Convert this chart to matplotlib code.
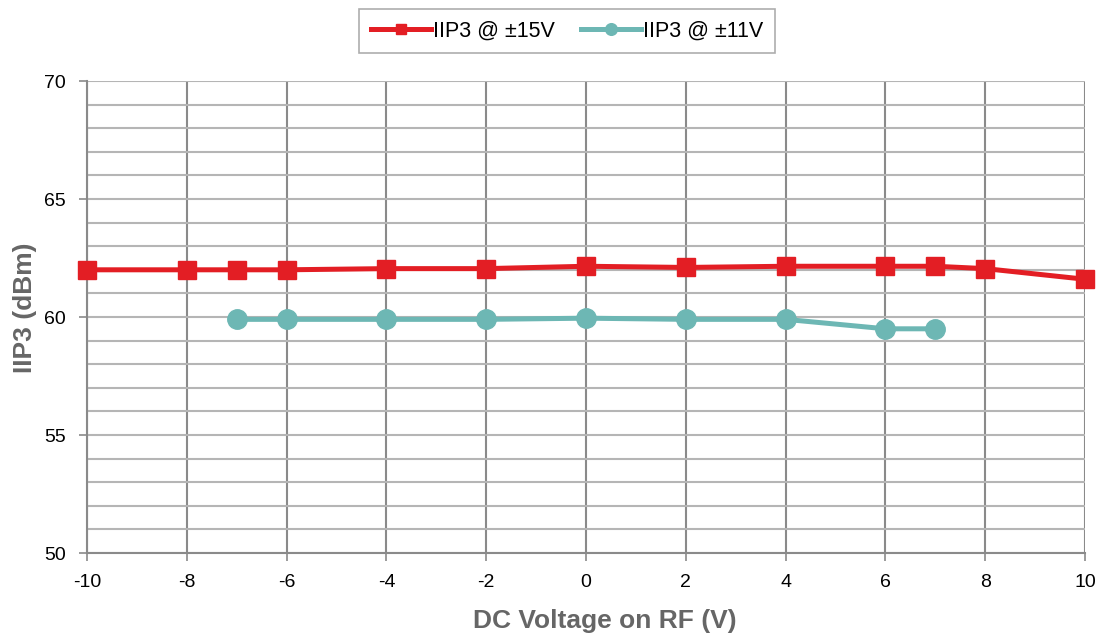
import matplotlib.pyplot as plt
import numpy as np
from matplotlib.ticker import MultipleLocator

plt.rcParams['font.family'] = ['Liberation Sans', 'DejaVu Sans']
plt.rcParams['axes.unicode_minus'] = False

x15 = [-10, -8, -7, -6, -4, -2, 0, 2, 4, 6, 7, 8, 10]
iip3_15 = [62.0, 62.0, 62.0, 62.0, 62.05, 62.05, 62.15, 62.1, 62.15, 62.15, 62.15, 62.05, 61.6]
x11 = [-7, -6, -4, -2, 0, 2, 4, 6, 7]
iip3_11 = [59.9, 59.9, 59.9, 59.9, 59.95, 59.9, 59.9, 59.5, 59.5]

W, H = 1109, 635
fig = plt.figure(figsize=(W / 100, H / 100), dpi=100)
ax = fig.add_axes([87 / W, 1 - 553 / H, (1085 - 87) / W, (553 - 81) / H])

red = '#e31e24'
teal = '#6db7b4'

ax.plot(x15, iip3_15, color=red, lw=3.6, marker='s', ms=13, label='IIP3 @ \u00b115V',
        zorder=3, clip_on=False)
ax.plot(x11, iip3_11, color=teal, lw=3.6, marker='o', ms=14, label='IIP3 @ \u00b111V',
        zorder=3, clip_on=False)

ax.set_xlim(-10, 10)
ax.set_ylim(50, 70)
ax.xaxis.set_major_locator(MultipleLocator(2))
ax.yaxis.set_major_locator(MultipleLocator(5))
ax.yaxis.set_minor_locator(MultipleLocator(1))
ax.grid(which='major', axis='x', color='#8a8a8a', lw=1.5)
ax.grid(which='both', axis='y', color='#b5b5b5', lw=1.5)
ax.set_axisbelow(True)

for s in ['top', 'right']:
    ax.spines[s].set_visible(False)
for s in ['left', 'bottom']:
    ax.spines[s].set_color('#8a8a8a')
    ax.spines[s].set_linewidth(1.5)

ax.tick_params(axis='both', which='major', labelsize=14, length=6, color='#8a8a8a', width=1.2, pad=9)
ax.tick_params(axis='y', which='minor', length=0)

ax.set_xlabel('DC Voltage on RF (V)', fontsize=19, fontweight='bold', color='#666666', labelpad=13)
ax.set_ylabel('IIP3 (dBm)', fontsize=19, fontweight='bold', color='#666666', labelpad=5)
ax.xaxis.label.set_x(0.519)
ax.yaxis.label.set_y(0.519)

leg = ax.legend(loc='lower center', bbox_to_anchor=(0.481, 1.036), ncol=2, fontsize=15.5,
                frameon=True, fancybox=False, edgecolor='#999999', markerscale=0.6,
                handlelength=2.8, handletextpad=0.1, columnspacing=1.2, borderpad=0.55)
leg.get_frame().set_linewidth(1.2)

fig.savefig('out.png', dpi=100)
